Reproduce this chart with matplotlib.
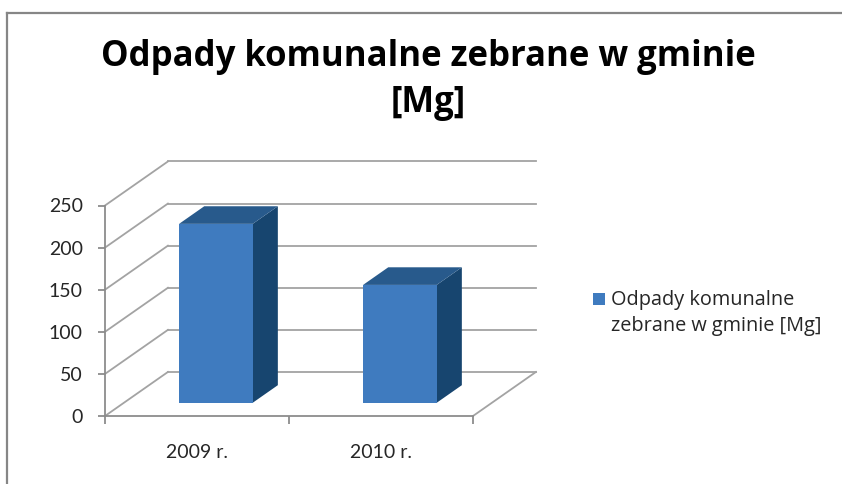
import numpy as np
import matplotlib.pyplot as plt
from matplotlib.patches import Polygon, Rectangle
from matplotlib.lines import Line2D

categories = ['2009 r.', '2010 r.']
values = [212.5, 140.0]
yticks = [0, 50, 100, 150, 200, 250]
series_name = 'Odpady komunalne\nzebrane w gminie [Mg]'
title = 'Odpady komunalne zebrane w gminie\n[Mg]'

plt.rcParams['font.family'] = ['Lato', 'DejaVu Sans']

W, H = 842, 484
fig = plt.figure(figsize=(W / 100, H / 100), dpi=100)
fig.patch.set_facecolor('white')

# front plane of the 3d box
ax = fig.add_axes([105 / W, 68 / H, 368 / W, 210.5 / H])
n = len(categories)
ax.set_xlim(0, n)
ax.set_ylim(0, yticks[-1])

# oblique depth offset in data units (depth 0 = front, 1 = back wall)
DX, DY = 0.342, 52.3


def proj(x, y, d):
  return x + d * DX, y + d * DY


grid = '#a3a3a3'
for v in yticks:
  bx0, by0 = proj(0, v, 1)
  bx1, by1 = proj(n, v, 1)
  ax.plot([bx0, bx1], [by0, by1], color=grid, lw=1.3, clip_on=False, zorder=1)
  fx, fy = proj(0, v, 0)
  ax.plot([fx, bx0], [fy, by0], color=grid, lw=1.3, clip_on=False, zorder=1)

# floor right edge
fx, fy = proj(n, 0, 0)
bx, by = proj(n, 0, 1)
ax.plot([fx, bx], [fy, by], color=grid, lw=1.3, clip_on=False, zorder=1)

c_front = '#3f7bbf'
c_top = '#285a8c'
c_side = '#17456f'
half, d0, d1 = 0.2, 0.3, 0.7
for i, v in enumerate(values):
  c = i + 0.5
  front = [proj(c - half, 0, d0), proj(c + half, 0, d0),
           proj(c + half, v, d0), proj(c - half, v, d0)]
  top = [proj(c - half, v, d0), proj(c + half, v, d0),
         proj(c + half, v, d1), proj(c - half, v, d1)]
  side = [proj(c + half, 0, d0), proj(c + half, 0, d1),
          proj(c + half, v, d1), proj(c + half, v, d0)]
  for pts, col in ((side, c_side), (top, c_top), (front, c_front)):
    ax.add_patch(Polygon(pts, closed=True, facecolor=col, edgecolor='none',
                         clip_on=False, zorder=3))

for s in ('top', 'right'):
  ax.spines[s].set_visible(False)
for s in ('left', 'bottom'):
  ax.spines[s].set_color('#8c8c8c')
  ax.spines[s].set_linewidth(1.3)
  ax.spines[s].set_zorder(4)
ax.patch.set_visible(False)

ax.set_yticks(yticks)
ax.set_xticks(np.arange(n + 1))
ax.set_xticklabels([])
ax.set_xticks(np.arange(n) + 0.5, categories, minor=True)
ax.tick_params(axis='y', length=5, width=1.3, color='#8c8c8c', pad=11,
               labelsize=14, labelcolor='#262626')
ax.tick_params(axis='x', which='major', length=5.5, width=1.3, color='#8c8c8c')
ax.tick_params(axis='x', which='minor', length=0, pad=20,
               labelsize=14, labelcolor='#262626')

fig.text(428 / W, 1 - 39 / H, title, ha='center', va='top', fontsize=25,
         fontweight='bold', color='black', linespacing=1.36,
         family=['Open Sans', 'DejaVu Sans'])

# legend
fig.add_artist(Rectangle((593 / W, 1 - 305 / H), 12 / W, 12 / H,
                         transform=fig.transFigure, facecolor=c_front,
                         edgecolor='none'))
fig.text(611 / W, 1 - 290 / H, series_name, ha='left', va='top', fontsize=14.3,
         color='#262626', linespacing=1.4,
         family=['Open Sans', 'DejaVu Sans'])

# outer chart frame (left and top edges visible)
frame = dict(color='#868686', lw=1.6, transform=fig.transFigure)
fig.add_artist(Line2D([7 / W, 7 / W], [0, 1 - 13 / H], **frame))
fig.add_artist(Line2D([7 / W, 1], [1 - 13 / H, 1 - 13 / H], **frame))

fig.savefig('out.png', dpi=100)
